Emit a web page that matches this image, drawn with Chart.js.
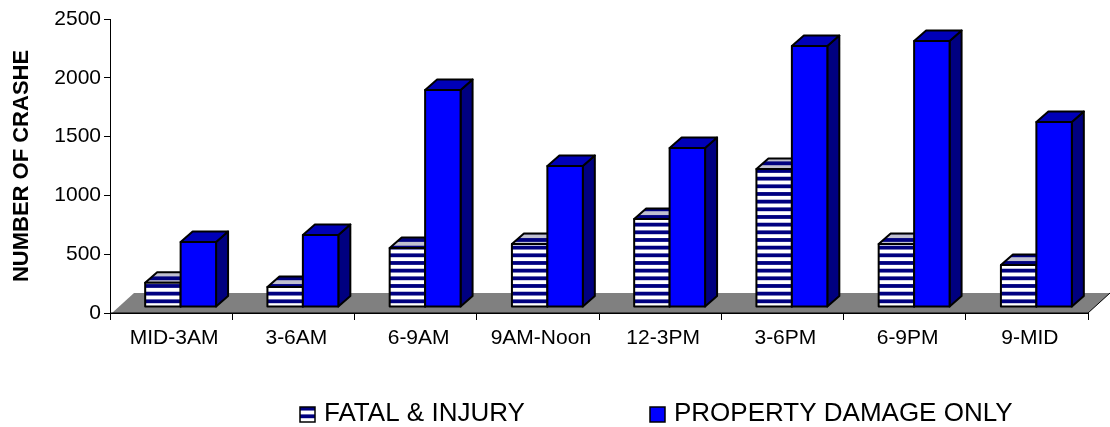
<!DOCTYPE html>
<html>
<head>
<meta charset="utf-8">
<script src="https://cdn.jsdelivr.net/npm/chart.js@4"></script>
<style>
  html, body { margin: 0; padding: 0; background: #fff; }
  #wrap { width: 1110px; height: 427px; }
</style>
</head>
<body>
<div id="wrap"><canvas id="myChart" width="1110" height="427"></canvas></div>
<script>
const categories = ['MID-3AM', '3-6AM', '6-9AM', '9AM-Noon', '12-3PM', '3-6PM', '6-9PM', '9-MID'];
const fatalInjury = [207, 170, 502, 536, 748, 1173, 536, 357];
const propertyDamage = [553, 612, 1845, 1199, 1352, 2219, 2262, 1573];
const yTicks = [0, 500, 1000, 1500, 2000, 2500];

// horizontal stripes, three bands in a 23px tile so they come out soft like the original
function stripes(a, b) {
  let c = document.createElement('canvas');
  c.width = 8;
  c.height = 23;
  let g = c.getContext('2d');
  g.fillStyle = b;
  g.fillRect(0, 0, 8, 23);
  g.fillStyle = a;
  [0.4, 8.07, 15.73].forEach(y => g.fillRect(0, y, 8, 3.8));
  return g.createPattern(c, 'repeat');
}

let ctx = document.getElementById('myChart').getContext('2d');
const stripeFront = stripes('#000080', '#ffffff');
const stripeTop = stripes('#000080', '#c0c0d0');

function poly(g, pts, fill) {
  g.beginPath();
  g.moveTo(pts[0][0], pts[0][1]);
  for (let i = 1; i < pts.length; i++) g.lineTo(pts[i][0], pts[i][1]);
  g.closePath();
  g.fillStyle = fill;
  g.fill();
  g.stroke();
}

// the fake 3d look: floor behind everything, boxes instead of flat bars
const box3d = {
  id: 'box3d',
  beforeDatasetsDraw(chart) {
    let g = chart.ctx;
    let a = chart.chartArea;
    g.save();
    g.beginPath();
    g.moveTo(a.left + 2, a.bottom);
    g.lineTo(a.left + 24, a.bottom - 20);
    g.lineTo(a.right + 22, a.bottom - 20);
    g.lineTo(a.right, a.bottom);
    g.closePath();
    g.fillStyle = '#808080';
    g.fill();
    g.strokeStyle = '#000';
    g.lineWidth = 1;
    g.beginPath();
    g.moveTo(a.left, a.bottom);
    g.lineTo(a.right, a.bottom);
    g.lineTo(a.right + 22, a.bottom - 20);
    g.stroke();

    // index order here, so the blue boxes end up over the striped ones
    let shiftX = 9.5, shiftY = -6, dx = 12, dy = -10.5;
    g.strokeStyle = '#000';
    g.lineWidth = 2;
    g.lineJoin = 'round';
    chart.data.datasets.forEach((ds, i) => {
      chart.getDatasetMeta(i).data.forEach(el => {
        let l = el.x - el.width / 2 + shiftX;
        let r = el.x + el.width / 2 + shiftX;
        let t = el.y + shiftY;
        let b = el.base + shiftY;
        poly(g, [[r, t], [r + dx, t + dy], [r + dx, b + dy], [r, b]], ds.sideColor);
        poly(g, [[l, t], [l + dx, t + dy], [r + dx, t + dy], [r, t]], ds.topColor);
        poly(g, [[l, t], [r, t], [r, b], [l, b]], ds.backgroundColor);
      });
    });
    g.restore();
  },
  beforeDatasetDraw() {
    return false;
  },
  // legend drawn by hand, the gap between the two entries is too wide for the built in one
  afterDraw(chart) {
    let g = chart.ctx;
    let boxX = [300, 650];
    g.save();
    g.font = '26px "Liberation Sans"';
    g.textBaseline = 'alphabetic';
    g.strokeStyle = '#000';
    g.lineWidth = 1.5;
    chart.data.datasets.forEach((ds, i) => {
      g.fillStyle = ds.backgroundColor;
      g.fillRect(boxX[i], 407, 15, 15);
      g.strokeRect(boxX[i], 407, 15, 15);
      g.fillStyle = '#000';
      g.fillText(ds.label, boxX[i] + 24, 421);
    });
    g.restore();
  }
};

new Chart(ctx, {
  type: 'bar',
  data: {
    labels: categories,
    datasets: [{
      label: 'FATAL & INJURY',
      data: fatalInjury,
      backgroundColor: stripeFront,
      topColor: stripeTop,
      sideColor: '#000080'
    }, {
      label: 'PROPERTY DAMAGE ONLY',
      data: propertyDamage,
      backgroundColor: '#0000ff',
      topColor: '#0000b8',
      sideColor: '#000080'
    }]
  },
  plugins: [box3d],
  options: {
    responsive: false,
    animation: false,
    layout: { padding: { top: 19, right: 22, bottom: 48, left: 0 } },
    categoryPercentage: 0.58,
    barPercentage: 1,
    scales: {
      x: {
        afterFit(s) { s.height = 66; },
        grid: { drawOnChartArea: false, color: '#000', tickLength: 7 },
        border: { color: '#000' },
        ticks: {
          color: '#000',
          padding: 6,
          labelOffset: 3,
          maxRotation: 0,
          font: { family: 'Liberation Sans', size: 21 }
        }
      },
      y: {
        min: 0,
        max: 2500,
        afterFit(s) { s.width = 110; },
        afterBuildTicks(s) { s.ticks = yTicks.map(v => ({ value: v })); },
        grid: { drawOnChartArea: false, color: '#000', tickLength: 6 },
        border: { color: '#000' },
        title: {
          display: true,
          text: 'NUMBER OF CRASHE',
          color: '#000',
          padding: { top: 9, bottom: 0 },
          font: { family: 'Liberation Sans', size: 22, weight: 'bold' }
        },
        ticks: {
          color: '#000',
          padding: 3,
          callback: v => String(v),
          font: { family: 'Liberation Sans', size: 21 }
        }
      }
    },
    plugins: {
      tooltip: { enabled: false },
      legend: { display: false }
    }
  }
});
</script>
</body>
</html>
